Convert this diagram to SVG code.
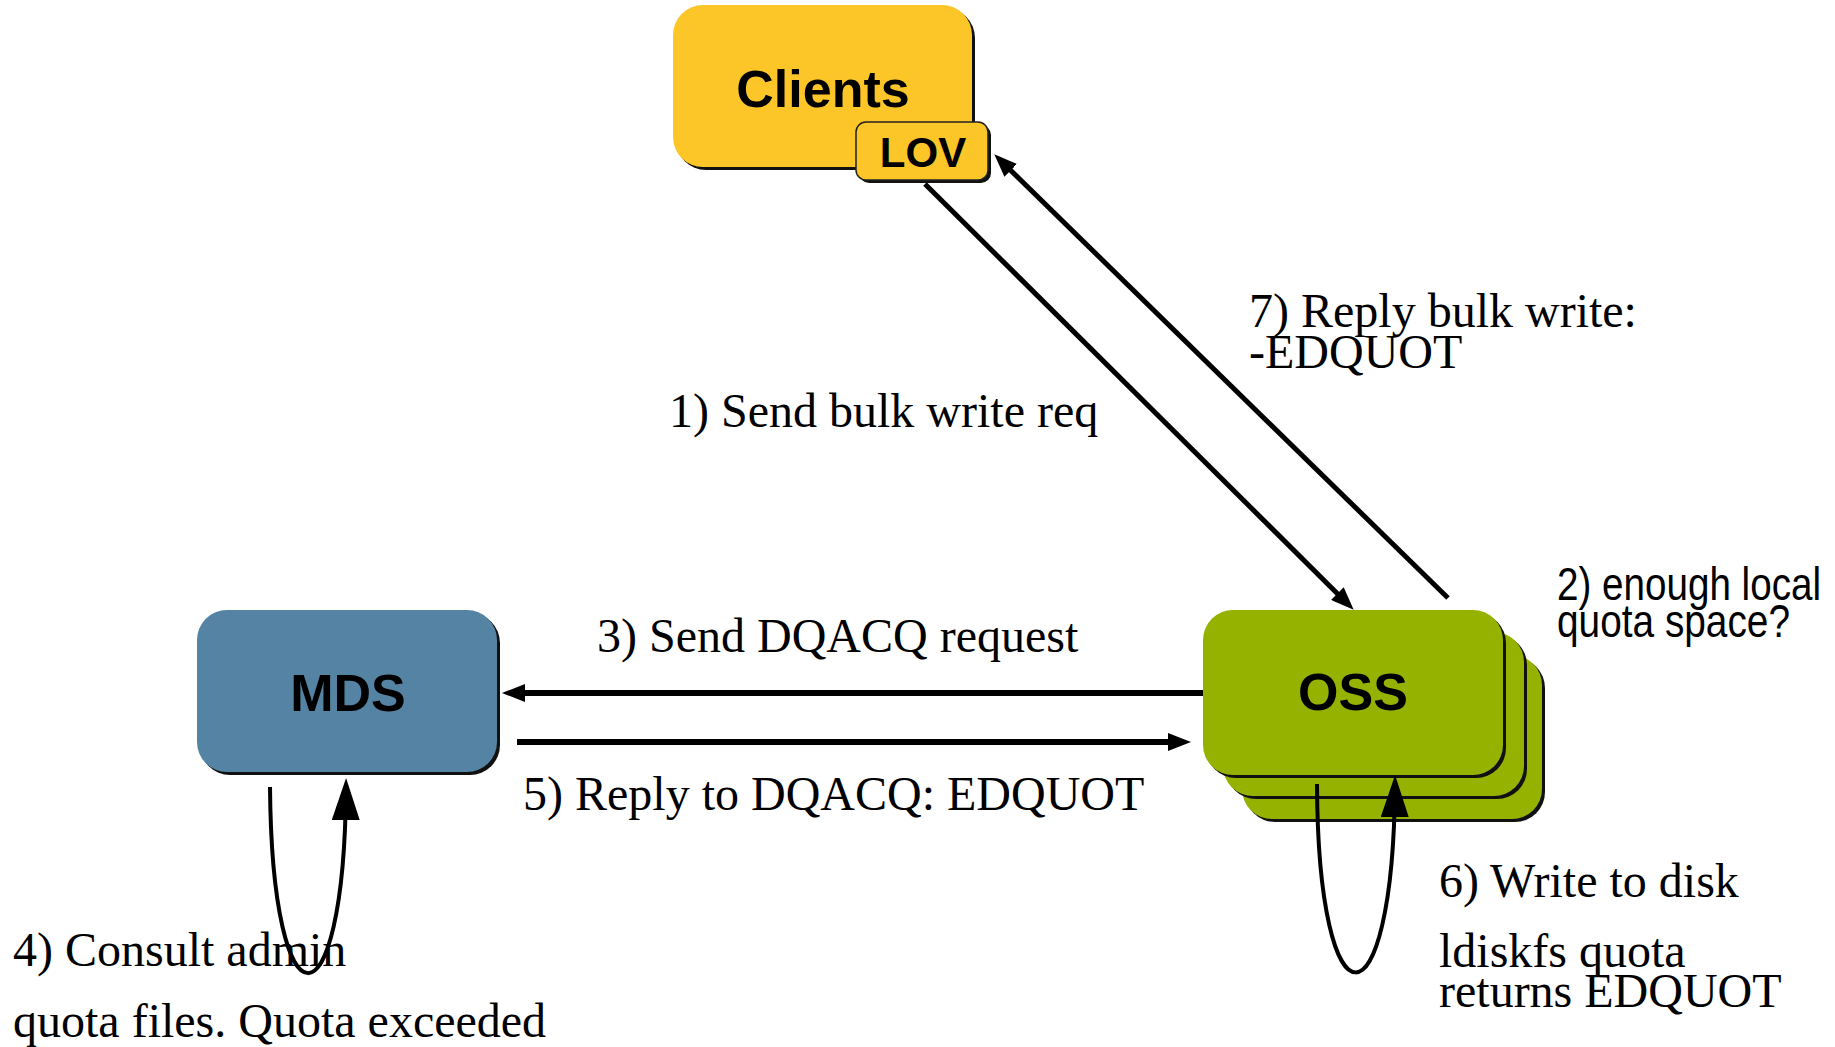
<svg xmlns="http://www.w3.org/2000/svg" width="1835" height="1047" viewBox="0 0 1835 1047">
  <style>
    .shadow { fill: #111; }
    .clients { fill: #FCC628; }
    .mds { fill: #5583A3; }
    .oss { fill: #96B200; }
    .title { font-family: "Liberation Sans", Arial, sans-serif; font-weight: bold; font-size: 52px; fill: #000; text-anchor: middle; }
    .label { font-family: "Liberation Serif", "Times New Roman", serif; font-size: 48px; fill: #000; }
    .note { font-family: "Liberation Sans", Arial, sans-serif; font-size: 47px; fill: #000; }
    .edge { fill: none; stroke: #000; stroke-linecap: butt; }
    .diag { stroke-width: 5; marker-end: url(#head); }
    .horiz { stroke-width: 6; marker-end: url(#head); }
    .loop { stroke-width: 4; marker-end: url(#bighead); }
  </style>
  <defs>
    <marker id="head" markerUnits="userSpaceOnUse" markerWidth="24" markerHeight="18" refX="14" refY="9" orient="auto">
      <path d="M0,0 L23,9 L0,18 z" fill="#000"/>
    </marker>
    <marker id="bighead" markerUnits="userSpaceOnUse" markerWidth="44" markerHeight="28" refX="32" refY="14" orient="auto">
      <path d="M0,0 L42,14 L0,28 z" fill="#000"/>
    </marker>
  </defs>

  <rect width="1835" height="1047" fill="#fff"/>

  <!-- Clients node with LOV tag -->
  <g id="clients">
    <rect class="shadow" x="676" y="8" width="299" height="162" rx="30"/>
    <rect class="clients" x="673" y="5" width="299" height="162" rx="30"/>
    <text class="title" x="823" y="107">Clients</text>
  </g>
  <g id="lov">
    <rect class="shadow" x="859" y="125" width="132" height="58" rx="10"/>
    <rect class="clients" x="856" y="122" width="132" height="58" rx="10" stroke="#222" stroke-width="1.5"/>
    <text class="title" x="923" y="167" style="font-size:42px">LOV</text>
  </g>

  <!-- MDS node -->
  <g id="mds">
    <rect class="shadow" x="200" y="613" width="300" height="162" rx="30"/>
    <rect class="mds" x="197" y="610" width="300" height="162" rx="30"/>
    <text class="title" x="348" y="711">MDS</text>
  </g>

  <!-- OSS node: stack of three servers -->
  <g id="oss">
    <rect class="shadow" x="1245" y="658" width="300" height="164" rx="30"/>
    <rect class="oss" x="1242" y="655" width="300" height="164" rx="30"/>
    <rect class="shadow" x="1226" y="635" width="301" height="164" rx="30"/>
    <rect class="oss" x="1223" y="632" width="301" height="164" rx="30"/>
    <rect class="shadow" x="1206" y="613" width="300" height="165" rx="30"/>
    <rect class="oss" x="1203" y="610" width="300" height="165" rx="30"/>
    <text class="title" x="1353" y="710">OSS</text>
  </g>

  <!-- connectors, drawn over the nodes -->
  <g id="connectors">
    <!-- 1) client request down to the OSS -->
    <path class="edge diag" d="M925,184 L1347.3,603.4"/>
    <!-- 7) reply back up to the LOV -->
    <path class="edge diag" d="M1448,598 L1000.7,160.6"/>
    <!-- 3) OSS asks MDS for quota -->
    <path class="edge horiz" d="M1203,693 L511,693"/>
    <!-- 5) MDS answers OSS -->
    <path class="edge horiz" d="M517,742 L1182,742"/>
    <!-- 4) MDS self loop -->
    <path class="edge loop" d="M270,787 C272,1035 344,1035 346,788"/>
    <!-- 6) OSS self loop -->
    <path class="edge loop" d="M1317,784 C1318,1035 1393,1035 1395,785"/>
  </g>

  <!-- step labels -->
  <g id="labels">
    <text class="label" x="669" y="427">1) Send bulk write req</text>
    <text class="note" x="1557" y="600" textLength="264" lengthAdjust="spacingAndGlyphs">2) enough local</text>
    <text class="note" x="1557" y="637" textLength="233" lengthAdjust="spacingAndGlyphs">quota space?</text>
    <text class="label" x="597" y="652">3) Send DQACQ request</text>
    <text class="label" x="13" y="966">4) Consult admin</text>
    <text class="label" x="13" y="1037">quota files. Quota exceeded</text>
    <text class="label" x="523" y="810">5) Reply to DQACQ: EDQUOT</text>
    <text class="label" x="1439" y="897">6) Write to disk</text>
    <text class="label" x="1439" y="967">ldiskfs quota</text>
    <text class="label" x="1439" y="1007">returns EDQUOT</text>
    <text class="label" x="1249" y="327">7) Reply bulk write:</text>
    <text class="label" x="1249" y="368">-EDQUOT</text>
  </g>
</svg>
